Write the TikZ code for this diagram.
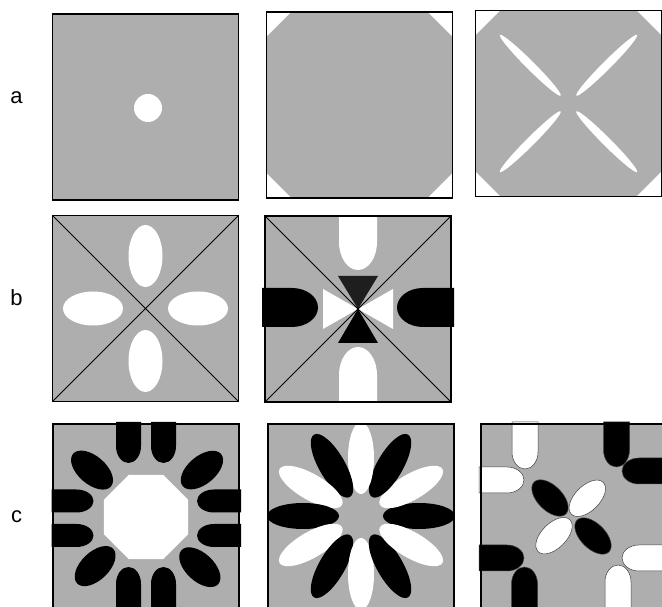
\documentclass[tikz,border=0pt]{standalone}
\usepackage{fontspec}
\setmainfont{Liberation Sans}
\definecolor{panelgray}{RGB}{174,174,174}
\definecolor{darkwedge}{RGB}{30,30,30}
\tikzset{
  panelfill/.style={fill=panelgray},
  panelframe/.style={draw=black, line width=1.9pt},
  holefill/.style={fill=white},
  lobefill/.style={fill=black},
  rimwhite/.style={fill=white, draw=black!75, line width=0.5pt},
  rimblack/.style={fill=black, draw=black!75, line width=0.5pt},
  diagline/.style={draw=black, line width=0.9pt},
  rowlabel/.style={font=\fontsize{22}{26}\selectfont, anchor=base, inner sep=0pt},
}
% finger: style, tip, direction, length, half width, rounding
\newcommand{\fingershape}[6]{%
  \path[#1, shift={(#2)}, rotate=#3] (-#5,#4) -- (-#5,#6)
    arc[start angle=180, end angle=360, x radius=#5, y radius=#6] -- (#5,#4) -- cycle;}

\begin{document}
\begin{tikzpicture}[x=1pt, y=1pt]
  \useasboundingbox (0,0) rectangle (662,607);
  \clip (0,0) rectangle (662,607);

  \node[rowlabel] (la) at (16.5,503) {a};
  \node[rowlabel] (lb) at (16.5,301) {b};
  \node[rowlabel] (lc) at (16.5,84) {c};

  % row a
  \begin{scope}[shift={(145.5,500)}]
    \fill[panelfill] (-93,-93) rectangle (93,93);
    \fill[holefill] (2.5,-1) circle[radius=14];
    \draw[panelframe] (-93,-93) rectangle (93,93);
  \end{scope}
  \begin{scope}[shift={(359.5,502)}]
    \fill[panelfill] (-68,93) -- (68,93) -- (93,68) -- (93,-68) -- (68,-93)
      -- (-68,-93) -- (-93,-68) -- (-93,68) -- cycle;
    \draw[panelframe] (-93,-93) rectangle (93,93);
  \end{scope}
  \begin{scope}[shift={(568.5,503.5)}]
    \fill[panelfill] (-68,93) -- (68,93) -- (93,68) -- (93,-68) -- (68,-93)
      -- (-68,-93) -- (-93,-68) -- (-93,68) -- cycle;
    \foreach \ang in {45,135,225,315}
      \fill[holefill] (\ang:54) circle[x radius=43, y radius=4.2, rotate=\ang];
    \draw[panelframe] (-93,-93) rectangle (93,93);
  \end{scope}

  % row b
  \begin{scope}[shift={(145.5,298.5)}]
    \fill[panelfill] (-93,-93) rectangle (93,93);
    \foreach \ang in {0,180}
      \fill[holefill] (\ang:52.5) circle[x radius=30, y radius=17];
    \foreach \ang in {90,270}
      \fill[holefill] (\ang:52.5) circle[x radius=17, y radius=31];
    \draw[diagline] (-93,-93) -- (93,93) (-93,93) -- (93,-93);
    \draw[panelframe] (-93,-93) rectangle (93,93);
  \end{scope}
  \begin{scope}[shift={(358,298)}]
    \fill[panelfill] (-93,-93) rectangle (93,93);
    \fingershape{holefill}{0,39}{0}{56}{19}{28}
    \fingershape{holefill}{0,-38}{180}{57}{19}{28}
    \fingershape{lobefill}{-40,1.5}{90}{56}{19.5}{26}
    \fingershape{lobefill}{39,1.5}{-90}{57}{19.5}{26}
    \fill[darkwedge] (-20,33) -- (20,33) -- (0,0) -- cycle;
    \fill[black] (-20,-34) -- (20,-34) -- (0,0) -- cycle;
    \fill[holefill] (-35,20) -- (-35,-20) -- (0,0) -- cycle;
    \fill[holefill] (35,20) -- (35,-20) -- (0,0) -- cycle;
    \draw[diagline] (-93,-93) -- (93,93) (-93,93) -- (93,-93);
    \draw[panelframe] (-93,-93) rectangle (93,93);
  \end{scope}

  % row c
  \begin{scope}[shift={(146,90)}]
    \fill[panelfill] (-93,-93) rectangle (93,93);
    \fill[holefill] (22.5:45.5) -- (67.5:45.5) -- (112.5:45.5) -- (157.5:45.5)
      -- (202.5:45.5) -- (247.5:45.5) -- (292.5:45.5) -- (337.5:45.5) -- cycle;
    \foreach \xx in {-17.5,17.5} {
      \fingershape{lobefill}{\xx,54}{0}{41}{12.5}{17}
      \fingershape{lobefill}{\xx,-50}{180}{45}{12.5}{17}
    }
    \foreach \yy in {16,-18.5} {
      \fingershape{lobefill}{-52.5,\yy}{90}{42}{11.5}{17}
      \fingershape{lobefill}{51,\yy}{-90}{44}{11.5}{17}
    }
    \foreach \ang/\rr in {139/71.5,40/73,224/70.7,317/73.6}
      \fill[lobefill] (\ang:\rr) circle[x radius=25, y radius=14, rotate=\ang];
    \draw[panelframe] (-93,-93) rectangle (93,93);
  \end{scope}
  \begin{scope}[shift={(361,91)}]
    \fill[panelfill] (-93,-94) rectangle (93,92);
    \foreach \ang/\col in {0/black,30/white,60/black,90/white,120/black,150/white,
      180/black,210/white,240/black,270/white,300/black,330/white}
      \fill[fill=\col] (\ang:58) circle[x radius=36, y radius=13, rotate=\ang];
    \draw[panelframe] (-93,-94) rectangle (93,92);
  \end{scope}
  \begin{scope}[shift={(574,90)}]
    \fill[panelfill] (-93,-93) rectangle (93,93);
    \fingershape{rimwhite}{-49,48}{0}{47}{13}{17}
    \fingershape{rimwhite}{-50,37}{90}{45}{13}{17}
    \fingershape{rimblack}{42.5,50}{0}{45}{13}{17}
    \fingershape{rimblack}{48,46}{-90}{50}{13}{17}
    \fingershape{rimblack}{-50,-41}{90}{45}{13}{17}
    \fingershape{rimblack}{-49.5,-50}{180}{50}{13}{17}
    \fingershape{rimwhite}{48,-41}{-90}{50}{13}{17}
    \fingershape{rimwhite}{44,-48}{180}{50}{13}{17}
    \fill[rimblack] (-24,19) circle[x radius=22.5, y radius=12.5, rotate=135];
    \fill[rimwhite] (13.3,18.7) circle[x radius=22.5, y radius=12.5, rotate=45];
    \fill[rimwhite] (-20,-18.7) circle[x radius=22.5, y radius=12.5, rotate=45];
    \fill[rimblack] (19,-19) circle[x radius=22.5, y radius=12.5, rotate=135];
    \draw[panelframe] (-93,-93) rectangle (93,93);
  \end{scope}
\end{tikzpicture}
\end{document}
